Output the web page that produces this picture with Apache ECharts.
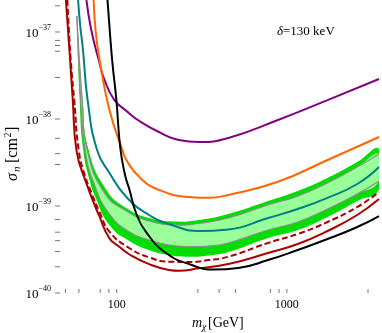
<!DOCTYPE html>
<html>
<head>
<meta charset="utf-8">
<script src="https://cdn.jsdelivr.net/npm/echarts@6/dist/echarts.min.js"></script>
<style>
  html, body { margin: 0; padding: 0; background: #fff; }
  #chart { width: 382px; height: 333px; }
</style>
</head>
<body>
<div id="chart"></div>
<script>
// mass in GeV, sigma_n in units of 1e-40 cm^2
var purple = [[66.4, 2332], [70.9, 1054], [79.3, 440], [84.8, 281], [97.0, 165], [114, 124], [136, 94.8], [177, 70.9], [232, 57.4], [303, 54.4], [453, 60.5], [886, 97.4], [1734, 165], [3480, 288]];
var orange = [[73.2, 2332], [75.1, 1054], [79.3, 477], [90.7, 127], [108, 44.0], [114, 33.8], [136, 21.5], [177, 15.3], [265, 12.7], [347, 12.4], [453, 13.4], [886, 19.0], [1734, 33.8], [3480, 62.1]];
var teal = [[59.3, 2332], [61.0, 1203], [63.4, 621], [67.5, 165], [76.7, 44.0], [90.7, 23.9], [114, 12.7], [155, 7.88], [211, 6.05], [303, 5.16], [453, 5.37], [775, 7.28], [1159, 9.24], [1734, 12.4], [2592, 17.9], [3480, 28.1]];
var black = [[88.3, 2332], [91.0, 1054], [94.4, 440], [99.6, 165], [105, 46.4], [112, 22.7], [119, 15.3], [130, 8.31], [149, 5.02], [195, 2.88], [276, 2.10], [371, 1.86], [518, 1.94], [775, 2.39], [1159, 3.12], [1734, 4.17], [2592, 5.74], [3480, 7.67]];
var redSolid = [[50.3, 2332], [53.0, 544], [55.2, 165], [58.0, 44.0], [66.4, 18.2], [79.3, 7.53], [90.7, 4.25], [104, 3.38], [119, 2.77], [155, 2.15], [203, 1.84], [232, 1.80], [303, 1.92], [453, 2.15], [775, 2.88], [1159, 3.66], [1734, 5.16], [2592, 7.88], [3480, 12.0]];
var redDashed = [[51.3, 2332], [53.7, 477], [56.3, 165], [59.8, 44.0], [64.9, 22.7], [71.2, 14.1], [79.3, 8.53], [90.7, 5.07], [119, 3.27], [155, 2.57], [203, 2.29], [265, 2.27], [347, 2.39], [453, 2.61], [775, 3.76], [1159, 4.77], [1734, 6.55], [2592, 9.74], [3480, 14.5]];

// 2 sigma (outer) and 1 sigma (inner) band edges
var outerTop = [[58.3, 1527], [63.1, 165], [68.4, 44.0], [87.1, 15.3], [114, 9.48], [155, 7.28], [223, 6.63], [303, 6.90], [453, 8.09], [775, 11.4], [1159, 14.9], [1734, 21.0], [2592, 32.0], [3480, 45.2]];
var innerTop = [[58.3, 1527], [62.7, 165], [67.1, 44.0], [84.8, 14.1], [114, 8.76], [155, 6.72], [223, 6.05], [303, 6.29], [453, 7.28], [775, 10.3], [1159, 13.0], [1734, 18.4], [2592, 28.1], [3480, 39.6]];
var innerBottom = [[58.3, 1527], [61.5, 165], [65.3, 44.0], [74.1, 17.4], [90.7, 8.09], [119, 5.02], [155, 4.07], [203, 3.56], [265, 3.41], [347, 3.47], [453, 3.76], [775, 5.30], [1159, 6.55], [1734, 9.24], [2592, 13.7], [3480, 19.4]];
var outerBottom = [[58.3, 1527], [60.6, 165], [63.6, 44.0], [69.3, 19.9], [74.1, 13.4], [90.7, 6.05], [119, 3.96], [155, 3.12], [203, 2.73], [265, 2.61], [347, 2.70], [453, 2.96], [775, 4.29], [1159, 5.30], [1734, 7.47], [2592, 11.4], [3480, 15.7]];

var xTicks = [50, 60, 80, 90, 100, 300, 400, 500, 800, 900, 1000, 3000];
var yTicks = [1, 2, 3, 4, 5, 7, 10, 30, 40, 60, 100, 300, 600, 700, 800, 1000, 2000];
var xMin = 43.4, xMax = 3480, yMin = 1, yMax = 2332;

var serif = "'Liberation Serif', 'DejaVu Serif', serif";
var SMOOTH = 0.5;

function isDecade(v) {
  var l = Math.log10(v);
  return Math.abs(l - Math.round(l)) < 1e-6;
}

function curve(data, color, dashed) {
  return {
    type: "line",
    data: data,
    symbol: "none",
    smooth: SMOOTH,
    silent: true,
    lineStyle: { color: color, width: 2, type: dashed ? [6, 3] : "solid" },
  };
}

// the green bands are drawn as smooth polygons through the axis scales
function bandSeries() {
  return {
    type: "custom",
    silent: true,
    clip: true,
    data: [[xMin, yMin]],
    renderItem: function (params, api) {
      function pts(arr) { return arr.map(function (d) { return api.coord(d); }); }
      var oT = pts(outerTop), iT = pts(innerTop), iB = pts(innerBottom), oB = pts(outerBottom);
      return {
        type: "group",
        children: [
          { type: "polygon", shape: { points: oT.concat(oB.slice().reverse()), smooth: SMOOTH }, style: { fill: "#00dd00" } },
          { type: "polygon", shape: { points: iT.concat(iB.slice().reverse()), smooth: SMOOTH }, style: { fill: "#99ff99" } },
          { type: "polyline", shape: { points: iT, smooth: SMOOTH }, style: { stroke: "#8c8c8c", lineWidth: 1.2, fill: null } },
          { type: "polyline", shape: { points: iB, smooth: SMOOTH }, style: { stroke: "#8c8c8c", lineWidth: 1.2, fill: null } },
        ],
      };
    },
  };
}

function tickSeries(values, onY) {
  return {
    type: "custom",
    silent: true,
    z: 10,
    clip: false,
    data: values.map(function (v) { return onY ? [xMin, v] : [v, yMin]; }),
    renderItem: function (params, api) {
      var p = api.coord([api.value(0), api.value(1)]);
      return {
        type: "line",
        shape: onY
          ? { x1: p[0], y1: p[1], x2: p[0] + 5, y2: p[1] }
          : { x1: p[0], y1: p[1], x2: p[0], y2: p[1] - 4 },
        style: { stroke: "#777", lineWidth: 1 },
      };
    },
  };
}

var chartDom = document.getElementById("chart");
var myChart = echarts.init(chartDom);
var option;

option = {
  animation: false,
  grid: { left: 55, right: 0, top: 0, bottom: 40, containLabel: false },
  xAxis: {
    type: "log",
    min: xMin,
    max: xMax,
    axisLine: { show: false },
    axisTick: { show: false },
    splitLine: { show: false },
    axisLabel: {
      margin: 6,
      color: "#000",
      fontFamily: serif,
      fontSize: 12,
      formatter: function (v) { return isDecade(v) ? String(Math.round(v)) : ""; },
    },
  },
  yAxis: {
    type: "log",
    min: yMin,
    max: yMax,
    axisLine: { show: false },
    axisTick: { show: false },
    splitLine: { show: false },
    axisLabel: {
      margin: 4,
      formatter: function (v) {
        if (!isDecade(v)) return "";
        return "{b|10}{s|\u2212" + (40 - Math.round(Math.log10(v))) + "}";
      },
      rich: {
        b: { fontFamily: serif, fontSize: 13, lineHeight: 13, verticalAlign: "bottom", color: "#000" },
        s: { fontFamily: serif, fontSize: 8, padding: [0, 0, 8, 0], verticalAlign: "top", color: "#000" },
      },
    },
  },
  graphic: [
    {
      type: "text",
      x: 277,
      y: 32,
      style: {
        text: "{i|\u03b4}=130 keV",
        fontFamily: serif,
        fontSize: 13,
        fill: "#000",
        verticalAlign: "middle",
        rich: { i: { fontFamily: serif, fontSize: 13, fontStyle: "italic" } },
      },
    },
    {
      type: "group",
      x: 192,
      y: 323,
      children: [
        { type: "text", x: 0, y: 0, style: { text: "m", fontFamily: serif, fontSize: 14, fontStyle: "italic", fill: "#000", verticalAlign: "middle" } },
        { type: "text", x: 10, y: 4, style: { text: "\u03c7", fontFamily: serif, fontSize: 10, fontStyle: "italic", fill: "#000", verticalAlign: "middle" } },
        { type: "text", x: 16, y: 0, style: { text: "[GeV]", fontFamily: serif, fontSize: 14, fill: "#000", verticalAlign: "middle" } },
      ],
    },
    {
      type: "group",
      x: 13,
      y: 181,
      rotation: Math.PI / 2,
      children: [
        { type: "text", x: 0, y: 0, style: { text: "\u03c3", fontFamily: serif, fontSize: 16, fontStyle: "italic", fill: "#000", verticalAlign: "middle" } },
        { type: "text", x: 9, y: 4, style: { text: "n", fontFamily: serif, fontSize: 11, fontStyle: "italic", fill: "#000", verticalAlign: "middle" } },
        { type: "text", x: 18, y: 0, style: { text: "[cm", fontFamily: serif, fontSize: 16, fill: "#000", verticalAlign: "middle" } },
        { type: "text", x: 43.5, y: -5, style: { text: "2", fontFamily: serif, fontSize: 10, fill: "#000", verticalAlign: "middle" } },
        { type: "text", x: 49, y: 0, style: { text: "]", fontFamily: serif, fontSize: 16, fill: "#000", verticalAlign: "middle" } },
      ],
    },
  ],
  series: [
    bandSeries(),
    curve(purple, "#800080"),
    curve(orange, "#ff6600"),
    curve(teal, "#008080"),
    curve(redDashed, "#aa0000", true),
    curve(redSolid, "#aa0000"),
    curve(black, "#000000"),
    tickSeries(xTicks, false),
    tickSeries(yTicks, true),
  ],
};

option && myChart.setOption(option);
</script>
</body>
</html>
